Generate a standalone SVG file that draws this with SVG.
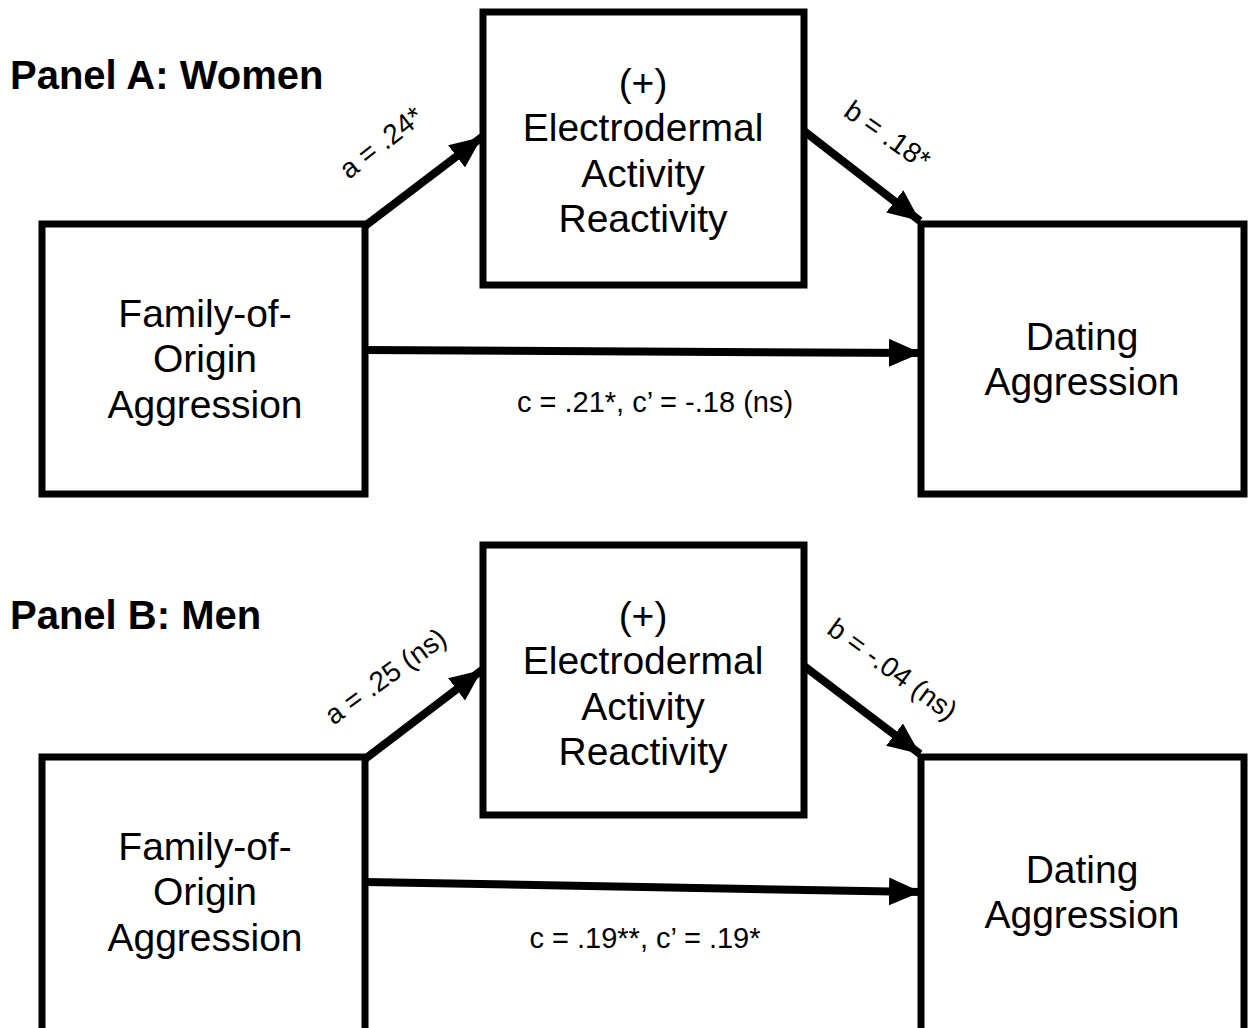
<svg xmlns="http://www.w3.org/2000/svg" width="1254" height="1028" viewBox="0 0 1254 1028">
<style>
.box{fill:#fff;stroke:#000;stroke-width:7}
.lbl{font-family:"Liberation Sans",Arial,sans-serif;font-size:39px;fill:#000;text-anchor:middle}
.ttl{font-family:"Liberation Sans",Arial,sans-serif;font-size:40px;font-weight:bold;fill:#000}
.coef{font-family:"Liberation Sans",Arial,sans-serif;font-size:29px;fill:#000;text-anchor:middle}
.rot{font-family:"Liberation Sans",Arial,sans-serif;font-size:28px;fill:#000;text-anchor:middle}
.arr{stroke:#000;stroke-width:8;fill:none;marker-end:url(#ah)}
</style>
<defs>
<marker id="ah" markerUnits="userSpaceOnUse" markerWidth="34" markerHeight="30" refX="32" refY="14" orient="auto">
<path d="M0,0 L32,14 L0,28 Z" fill="#000"/>
</marker>
</defs>
<rect width="1254" height="1028" fill="#fff"/>
<text class="ttl" x="10" y="89">Panel A: Women</text>
<text class="ttl" x="10" y="629">Panel B: Men</text>
<g id="connectors">
<path class="arr" d="M365,226 L482,137"/>
<path class="arr" d="M804,131 L920,221"/>
<path class="arr" d="M365,350 L921,353"/>
<path class="arr" d="M365,759 L482,670"/>
<path class="arr" d="M804,666 L920,754"/>
<path class="arr" d="M365,882 L921,892"/>
<text class="rot" transform="rotate(-38 387 150)" x="387" y="150">a = .24*</text>
<text class="rot" transform="rotate(35 882 143)" x="882" y="143">b = .18*</text>
<text class="coef" x="655" y="412">c = .21*, c’ = -.18 (ns)</text>
<text class="rot" transform="rotate(-36 391 684)" x="391" y="684">a = .25 (ns)</text>
<text class="rot" transform="rotate(36 887 677)" x="887" y="677">b = -.04 (ns)</text>
<text class="coef" x="645" y="948">c = .19**, c’ = .19*</text>
</g>
<g id="a_family">
<rect class="box" x="42" y="224" width="323" height="270"/>
<text class="lbl" x="205" y="327">Family-of-</text>
<text class="lbl" x="205" y="372">Origin</text>
<text class="lbl" x="205" y="418">Aggression</text>
</g>
<g id="a_eda">
<rect class="box" x="483" y="12" width="321" height="273"/>
<text class="lbl" x="643" y="96">(+)</text>
<text class="lbl" x="643" y="141">Electrodermal</text>
<text class="lbl" x="643" y="187">Activity</text>
<text class="lbl" x="643" y="232">Reactivity</text>
</g>
<g id="a_dating">
<rect class="box" x="921" y="224" width="323" height="270"/>
<text class="lbl" x="1082" y="350">Dating</text>
<text class="lbl" x="1082" y="395">Aggression</text>
</g>
<g id="b_family">
<rect class="box" x="42" y="757" width="323" height="280"/>
<text class="lbl" x="205" y="860">Family-of-</text>
<text class="lbl" x="205" y="905">Origin</text>
<text class="lbl" x="205" y="951">Aggression</text>
</g>
<g id="b_eda">
<rect class="box" x="483" y="545" width="321" height="270"/>
<text class="lbl" x="643" y="629">(+)</text>
<text class="lbl" x="643" y="674">Electrodermal</text>
<text class="lbl" x="643" y="720">Activity</text>
<text class="lbl" x="643" y="765">Reactivity</text>
</g>
<g id="b_dating">
<rect class="box" x="921" y="757" width="323" height="280"/>
<text class="lbl" x="1082" y="883">Dating</text>
<text class="lbl" x="1082" y="928">Aggression</text>
</g>
</svg>
